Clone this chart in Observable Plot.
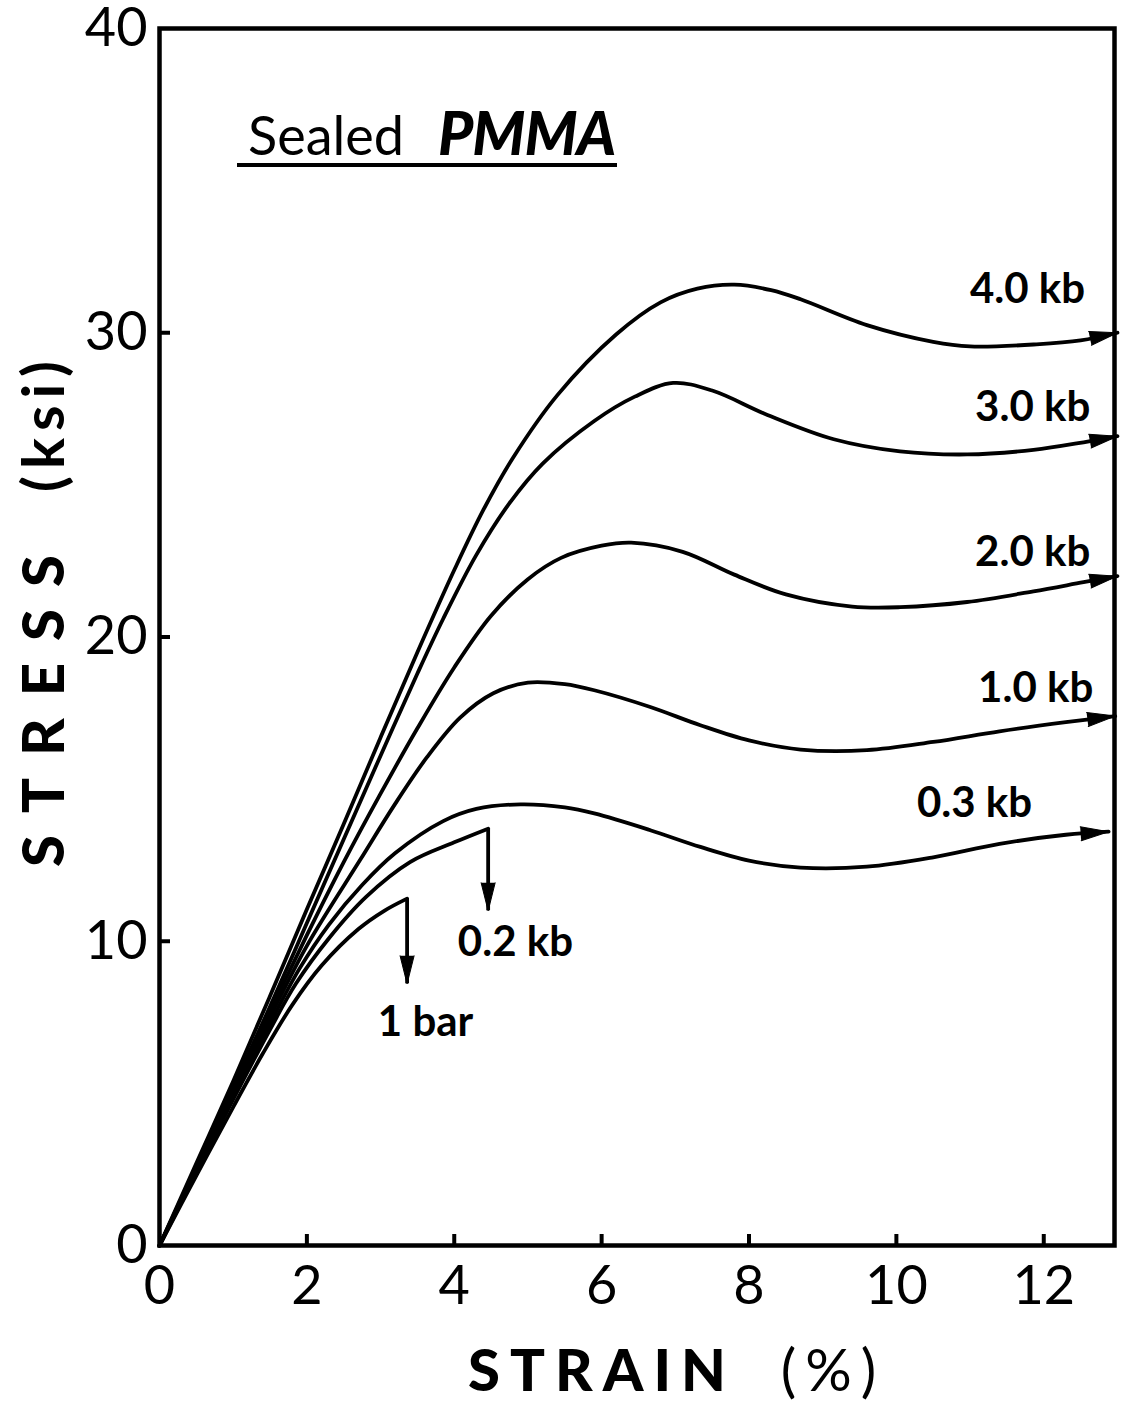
<!DOCTYPE html>
<html><head><meta charset="utf-8">
<script src="https://cdn.jsdelivr.net/npm/d3@7"></script>
<script src="https://cdn.jsdelivr.net/npm/@observablehq/plot@0.6"></script>
<style>
body{margin:0;background:#fff;}
#wrap{position:relative;width:1128px;height:1403px;font-family:Lato,"Noto Sans",sans-serif;color:#000;}
#title{position:absolute;left:237px;top:101px;width:380px;height:62px;line-height:62px;border-bottom:4px solid #000;white-space:nowrap;}
#title .s{font-size:54px;font-weight:400;margin-left:11px;line-height:62px;}
#title .p{font-size:60px;font-weight:900;font-style:italic;margin-left:34px;line-height:62px;letter-spacing:-1px;}
g[aria-description="x-title-main"] text{letter-spacing:10px;}
g[aria-description="x-title-unit"] text{letter-spacing:9px;}
g[aria-description="y-title-main"] text{letter-spacing:22px;}
g[aria-description="y-title-unit"] text{letter-spacing:7px;}
</style></head>
<body><div id="wrap"><div id="chart"></div><div id="title"><span class="s">Sealed</span><span class="p">PMMA</span></div></div>
<script>
// ---- data: [strain %, stress ksi] ----
const kb40 = [[0,0],[0.5,2.7],[1,5.4],[1.5,8.2],[2,11.05],[2.5,13.85],[3,16.7],[3.5,19.5],[4.0,22.2],[4.4,24.2],[4.8,25.9],[5.4,27.95],[6.2,29.95],[6.8,31.0],[7.3,31.45],[7.8,31.58],[8.3,31.4],[8.7,31.1],[9.6,30.25],[10.5,29.7],[11.0,29.55],[11.9,29.62],[12.5,29.75],[13.0,30.0]];
const kb30 = [[0,0],[0.5,2.6],[1,5.2],[1.5,7.85],[2,10.6],[2.5,13.35],[3,16.1],[3.5,18.8],[3.85,20.6],[4.3,22.7],[4.75,24.4],[5.2,25.7],[5.9,27.1],[6.45,27.9],[6.97,28.35],[7.5,28.1],[8.25,27.3],[9.15,26.5],[10.05,26.1],[10.96,26.0],[11.86,26.15],[12.54,26.4],[13.0,26.6]];
const kb20 = [[0,0],[0.5,2.55],[1,5.1],[1.5,7.7],[2,10.2],[2.5,12.6],[3,14.85],[3.5,17.0],[4.0,19.0],[4.5,20.7],[5.0,21.9],[5.45,22.6],[6.0,23.0],[6.4,23.1],[7.1,22.8],[7.8,22.05],[8.5,21.4],[9.4,21.0],[10.05,20.98],[10.96,21.15],[11.86,21.5],[12.54,21.8],[13.0,22.0]];
const kb10 = [[0,0],[0.5,2.5],[1,5.0],[1.5,7.5],[2,9.85],[2.73,12.7],[3.18,14.45],[3.63,16.05],[4.08,17.35],[4.53,18.15],[5.0,18.5],[5.5,18.45],[5.9,18.25],[6.66,17.7],[7.34,17.1],[8.0,16.6],[8.7,16.3],[9.6,16.28],[10.5,16.55],[11.4,16.9],[12.3,17.2],[12.97,17.4]];
const kb03 = [[0,0],[0.5,2.45],[1,4.9],[1.5,7.3],[1.9,9.1],[2.3,10.55],[2.75,11.85],[3.2,12.9],[3.85,13.95],[4.3,14.35],[4.9,14.5],[5.5,14.4],[5.9,14.2],[6.66,13.65],[7.34,13.1],[8.0,12.65],[8.7,12.42],[9.6,12.45],[10.5,12.76],[11.4,13.2],[12.3,13.5],[12.88,13.6]];
const kb02 = [[0,0],[0.5,2.4],[1,4.8],[1.5,7.1],[1.85,8.6],[2.3,10.1],[2.8,11.45],[3.4,12.6],[4.0,13.25],[4.46,13.7]];
const bar1 = [[0,0],[0.5,2.3],[1,4.55],[1.4,6.3],[1.8,7.9],[2.2,9.2],[2.7,10.4],[3.05,11.0],[3.36,11.4]];

const seriesNames = ["4.0 kb","3.0 kb","2.0 kb","1.0 kb","0.3 kb","0.2 kb","1 bar"];
const seriesPoints = [kb40, kb30, kb20, kb10, kb03, kb02, bar1];
const seriesEnd = ["right","right","right","right","right","drop","drop"];
// stress where the dropping arrows end (ksi)
const dropTo = {"0.2 kb": 11.0, "1 bar": 8.6};

// curve labels
const labelText = ["4.0 kb","3.0 kb","2.0 kb","1.0 kb","0.3 kb","0.2 kb","1 bar"];
const labelStrain = [11.78,11.85,11.85,11.89,11.06,4.83,3.61];
const labelStress = [31.41,27.53,22.76,18.32,14.54,9.97,7.34];

const xTickLabels = [0,2,4,6,8,10,12];
const xTickMarks = [2,4,6,8,10,12];
const yTickLabels = [0,10,20,30,40];
const yTickMarks = [10,20,30];
const xDomain = [0,12.96];
const yDomain = [0,40];

// ---- build ----
const W=1128, H=1403, ML=159, MR=14, MT=28, MB=158;
const kx=(W-ML-MR)/(xDomain[1]-xDomain[0]), ky=(H-MT-MB)/(yDomain[1]-yDomain[0]);

const rows = seriesNames.flatMap((n,i)=>seriesPoints[i].map(([x,y])=>({series:n, strain:x, stress:y})));
const rightArrows = [], drops = [];
seriesNames.forEach((n,i)=>{
  const p=seriesPoints[i], a=p[p.length-2], b=p[p.length-1];
  if (seriesEnd[i]==="right") rightArrows.push({strain:b[0], stress:b[1], angle: Math.atan2((b[0]-a[0])*kx,(b[1]-a[1])*ky)*180/Math.PI});
  else drops.push({strain:b[0], from:b[1], to:dropTo[n]});
});
const labels = labelText.map((t,i)=>({text:t, strain:labelStrain[i], stress:labelStress[i]}));

const chart = Plot.plot({
  width:W, height:H, marginLeft:ML, marginRight:MR, marginTop:MT, marginBottom:MB,
  style:{fontFamily:"Lato, 'Noto Sans', sans-serif", color:"#000", background:"#fff", overflow:"visible"},
  x:{domain:xDomain}, y:{domain:yDomain},
  marks:[
    Plot.frame({stroke:"#000", strokeWidth:4.5}),
    Plot.axisX(xTickMarks, {tickSize:-11, tickFormat:()=>"", strokeWidth:4, label:null}),
    Plot.axisX(xTickLabels, {tickSize:0, tickPadding:20, fontSize:54, label:null}),
    Plot.axisY(yTickMarks, {tickSize:-11, tickFormat:()=>"", strokeWidth:4, label:null}),
    Plot.axisY(yTickLabels, {tickSize:0, tickPadding:12, fontSize:54, label:null}),
    Plot.line(rows, {x:"strain", y:"stress", z:"series", curve:"catmull-rom", stroke:"#000", strokeWidth:3.8}),
    Plot.ruleX(drops, {x:"strain", y1:"from", y2:"to", stroke:"#000", strokeWidth:3.8}),
    Plot.vector(rightArrows, {x:"strain", y:"stress", rotate:"angle", length:28, r:7, shape:"spike", anchor:"end", fill:"#000", stroke:"#000", strokeWidth:1}),
    Plot.vector(drops, {x:"strain", y:"to", rotate:180, length:28, r:7, shape:"spike", anchor:"end", fill:"#000", stroke:"#000", strokeWidth:1}),
    Plot.text(labels, {x:"strain", y:"stress", text:"text", fontSize:42, fontWeight:700, fill:"#000"}),
    Plot.text(["STRAIN"], {frameAnchor:"bottom", textAnchor:"middle", lineAnchor:"middle", dx:-35, dy:127, fontSize:58, fontWeight:900, fill:"#000", ariaDescription:"x-title-main"}),
    Plot.text(["(%)"], {frameAnchor:"bottom", textAnchor:"middle", lineAnchor:"middle", dx:196, dy:127, fontSize:58, fontWeight:400, fill:"#000", ariaDescription:"x-title-unit"}),
    Plot.text(["STRESS"], {frameAnchor:"left", textAnchor:"middle", lineAnchor:"middle", dx:-114, dy:63, rotate:-90, fontSize:58, fontWeight:900, fill:"#000", ariaDescription:"y-title-main"}),
    Plot.text(["(ksi)"], {frameAnchor:"left", textAnchor:"middle", lineAnchor:"middle", dx:-114, dy:-214, rotate:-90, fontSize:58, fontWeight:700, fill:"#000", ariaDescription:"y-title-unit"})
  ]
});
document.getElementById("chart").append(chart);
</script>
</body></html>
